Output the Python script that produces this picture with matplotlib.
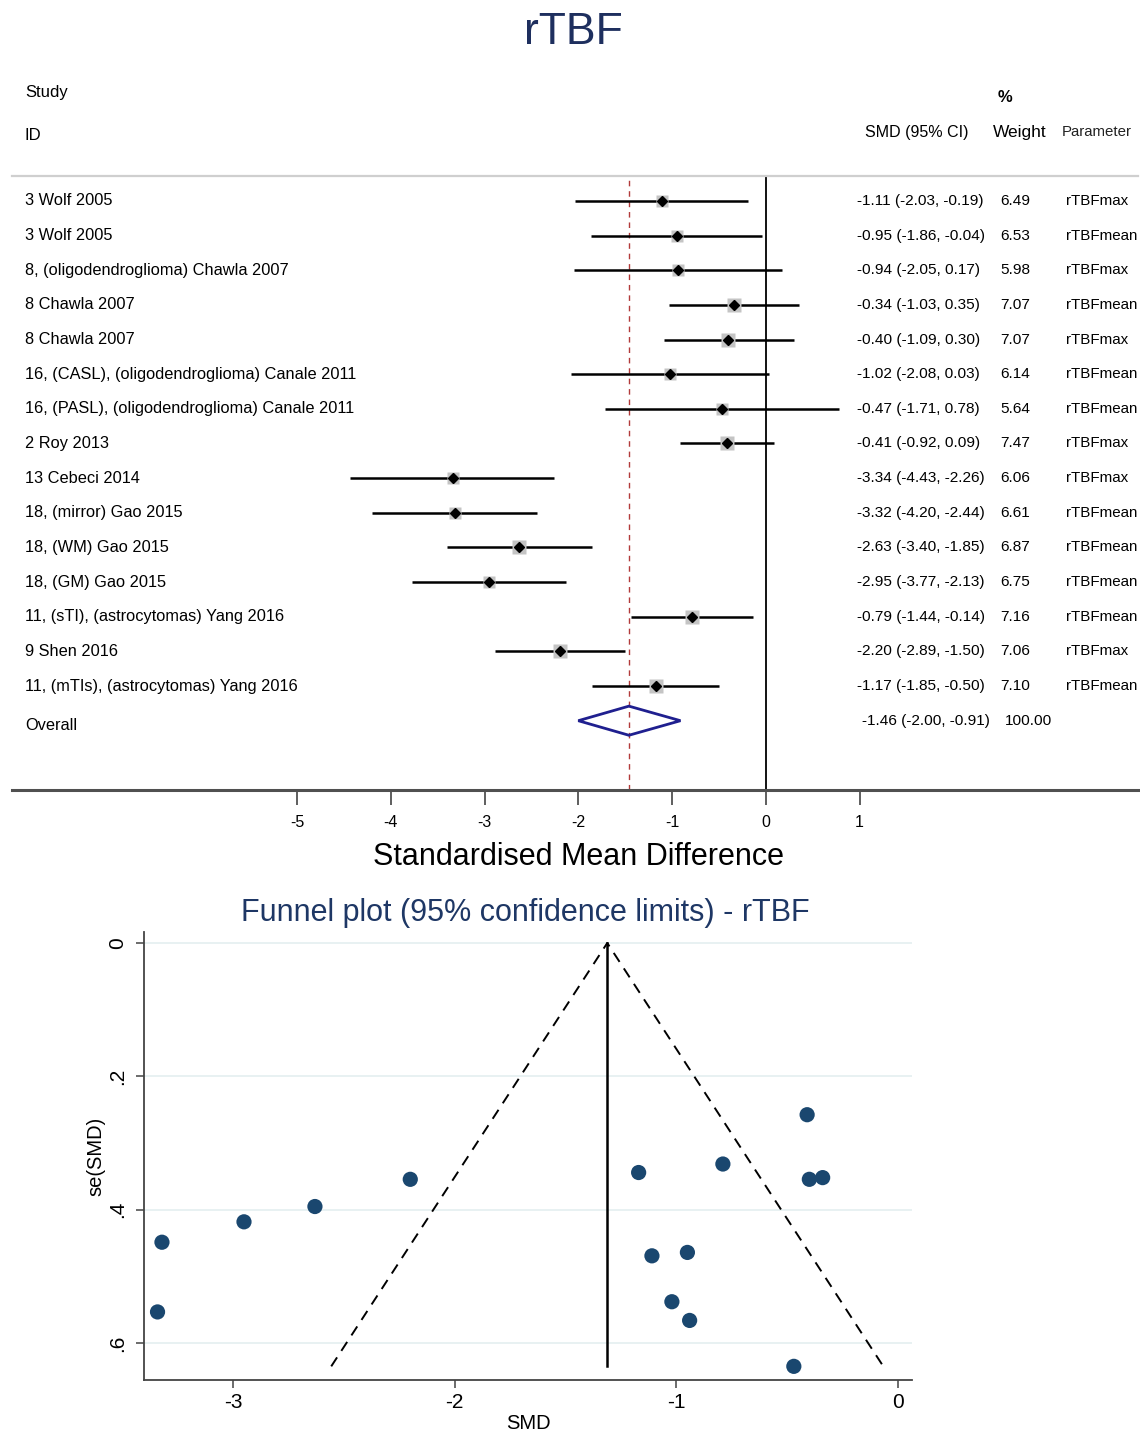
import numpy as np
import matplotlib
matplotlib.use("Agg")
import matplotlib.pyplot as plt
import matplotlib.transforms as mtransforms
from matplotlib.patches import Polygon

plt.rcParams["font.family"] = ["Liberation Sans", "DejaVu Sans"]

# Study rows of the rTBF forest plot
studies = [
    "3 Wolf 2005",
    "3 Wolf 2005",
    "8, (oligodendroglioma) Chawla 2007",
    "8 Chawla 2007",
    "8 Chawla 2007",
    "16, (CASL), (oligodendroglioma) Canale 2011",
    "16, (PASL), (oligodendroglioma) Canale 2011",
    "2 Roy 2013",
    "13 Cebeci 2014",
    "18, (mirror) Gao 2015",
    "18, (WM) Gao 2015",
    "18, (GM) Gao 2015",
    "11, (sTI), (astrocytomas) Yang 2016",
    "9 Shen 2016",
    "11, (mTIs), (astrocytomas) Yang 2016",
]
smd = [-1.11, -0.95, -0.94, -0.34, -0.40, -1.02, -0.47, -0.41,
       -3.34, -3.32, -2.63, -2.95, -0.79, -2.20, -1.17]
ci_low = [-2.03, -1.86, -2.05, -1.03, -1.09, -2.08, -1.71, -0.92,
          -4.43, -4.20, -3.40, -3.77, -1.44, -2.89, -1.85]
ci_high = [-0.19, -0.04, 0.17, 0.35, 0.30, 0.03, 0.78, 0.09,
           -2.26, -2.44, -1.85, -2.13, -0.14, -1.50, -0.50]
weights = [6.49, 6.53, 5.98, 7.07, 7.07, 6.14, 5.64, 7.47,
           6.06, 6.61, 6.87, 6.75, 7.16, 7.06, 7.10]
parameters = ["rTBFmax", "rTBFmean", "rTBFmax", "rTBFmean", "rTBFmax",
              "rTBFmean", "rTBFmean", "rTBFmax", "rTBFmax", "rTBFmean",
              "rTBFmean", "rTBFmean", "rTBFmean", "rTBFmax", "rTBFmean"]
overall_smd = -1.46
overall_low = -2.00
overall_high = -0.91
overall_weight = 100.00
forest_ticks = [-5, -4, -3, -2, -1, 0, 1]

navy = "#1e2f5e"

fig = plt.figure(figsize=(11.40, 14.31), dpi=100)
fig.patch.set_facecolor("white")

fig.text(0.503, 0.977, "rTBF", ha="center", va="center", fontsize=32, color=navy)

# ---- forest plot ----
ax = fig.add_axes([12 / 1140, 1 - 790 / 1431, 1126 / 1140, (790 - 176) / 1431])
n = len(studies)
rows = np.arange(n)
ax.set_xlim(-8.04, 3.97)
ax.set_ylim(17.0, -0.72)

ax.axvline(0, color="black", lw=1.3, zorder=1)
ax.axvline(overall_smd, color="#b23a3a", lw=1.0, ls=(0, (4, 3.5)), zorder=1)

for i in rows:
    ax.plot([ci_low[i], ci_high[i]], [i, i], color="black", lw=1.8,
            solid_capstyle="butt", zorder=2)
    ax.plot(smd[i], i, marker="s", ms=3.6 * np.sqrt(weights[i]),
            color="#c4c4c4", mec="none", zorder=3)
    ax.plot(smd[i], i, marker="D", ms=5.5, color="black", zorder=4)

orow = n
diamond = Polygon([(overall_low, orow), (overall_smd, orow - 0.42),
                   (overall_high, orow), (overall_smd, orow + 0.42)],
                  closed=True, fill=False, edgecolor="#1f1f8f", lw=2, zorder=5)
ax.add_patch(diamond)

for side in ["left", "right"]:
    ax.spines[side].set_visible(False)
ax.spines["top"].set_color("#cfcfcf")
ax.spines["top"].set_linewidth(1.6)
ax.spines["bottom"].set_color("#505050")
ax.spines["bottom"].set_linewidth(2.2)
ax.set_yticks([])
ax.set_xticks(forest_ticks)
ax.set_xticklabels([str(t) for t in forest_ticks])
ax.tick_params(axis="x", direction="out", length=11, width=1.1,
               labelsize=11.5, pad=7, color="#333333")
ax.set_xlabel("Standardised Mean Difference", fontsize=22)
ax.xaxis.set_label_coords(0.503, -0.085)

trans = mtransforms.blended_transform_factory(fig.transFigure, ax.transData)
for i in rows:
    ax.text(25 / 1140, i, studies[i], transform=trans, ha="left",
            va="center", fontsize=11.8)
    ax.text(857 / 1140, i, "%.2f (%.2f, %.2f)" % (smd[i], ci_low[i], ci_high[i]),
            transform=trans, ha="left", va="center", fontsize=11.1)
    ax.text(1000 / 1140, i, "%.2f" % weights[i], transform=trans,
            ha="left", va="center", fontsize=11.1)
    ax.text(1066 / 1140, i, parameters[i], transform=trans,
            ha="left", va="center", fontsize=10.9)
ax.text(25 / 1140, orow + 0.15, "Overall", transform=trans, ha="left",
        va="center", fontsize=11.8)
ax.text(862 / 1140, orow,
        "%.2f (%.2f, %.2f)" % (overall_smd, overall_low, overall_high),
        transform=trans, ha="left", va="center", fontsize=11.1)
ax.text(1005 / 1140, orow, "%.2f" % overall_weight, transform=trans,
        ha="left", va="center", fontsize=11.1)

# column headers
fig.text(25 / 1140, 1 - 93 / 1431, "Study", ha="left", va="center", fontsize=12)
fig.text(25 / 1140, 1 - 136 / 1431, "ID", ha="left", va="center", fontsize=12)
fig.text(1005 / 1140, 1 - 97 / 1431, "%", ha="center", va="center",
         fontsize=12, fontweight="bold")
fig.text(865 / 1140, 1 - 132 / 1431, "SMD (95% CI)", ha="left",
         va="center", fontsize=11.5)
fig.text(993 / 1140, 1 - 132 / 1431, "Weight", ha="left", va="center",
         fontsize=12.5)
fig.text(1062 / 1140, 1 - 132 / 1431, "Parameter", ha="left", va="center",
         fontsize=10.8, color="#222222")

# ---- funnel plot ----
smd_arr = np.array(smd)
se = (np.array(ci_high) - np.array(ci_low)) / (2 * 1.96)
w_fixed = 1 / se ** 2
pooled = np.sum(w_fixed * smd_arr) / np.sum(w_fixed)
se_max = se.max()

ax2 = fig.add_axes([144 / 1140, 1 - 1380 / 1431, 768 / 1140, (1380 - 932) / 1431])
ax2.set_xlim(-3.401, 0.063)
ax2.set_ylim(0.6557, -0.0165)

for yv in [0, 0.2, 0.4, 0.6]:
    ax2.axhline(yv, color="#e6f0f1", lw=1.3, zorder=0)

ax2.plot([pooled - 1.96 * se_max, pooled, pooled + 1.96 * se_max],
         [se_max, 0, se_max], color="black", lw=1.4, ls=(0, (5.5, 4)), zorder=2)
ax2.plot([pooled, pooled], [0, se_max], color="black", lw=1.8, zorder=2)
ax2.scatter(smd_arr, se, s=120, color="#1a476f", edgecolors="none", zorder=3)

ax2.spines["top"].set_visible(False)
ax2.spines["right"].set_visible(False)
for side in ["left", "bottom"]:
    ax2.spines[side].set_color("#444444")
    ax2.spines[side].set_linewidth(1.3)
ax2.set_xticks([-3, -2, -1, 0])
ax2.set_xticklabels(["-3", "-2", "-1", "0"])
ax2.set_yticks([0, 0.2, 0.4, 0.6])
ax2.set_yticklabels(["0", ".2", ".4", ".6"], rotation=90, va="center")
ax2.tick_params(axis="both", labelsize=15, length=6, width=1.1,
                color="#444444")
ax2.tick_params(axis="y", pad=6)
ax2.set_xlabel("SMD", fontsize=14.5, labelpad=1)
ax2.set_ylabel("se(SMD)", fontsize=14.5, labelpad=2)
ax2.set_title("Funnel plot (95% confidence limits) - rTBF", fontsize=22,
              color="#1e3765", pad=8, x=0.497)

fig.savefig("out.png", dpi=100, facecolor="white")
